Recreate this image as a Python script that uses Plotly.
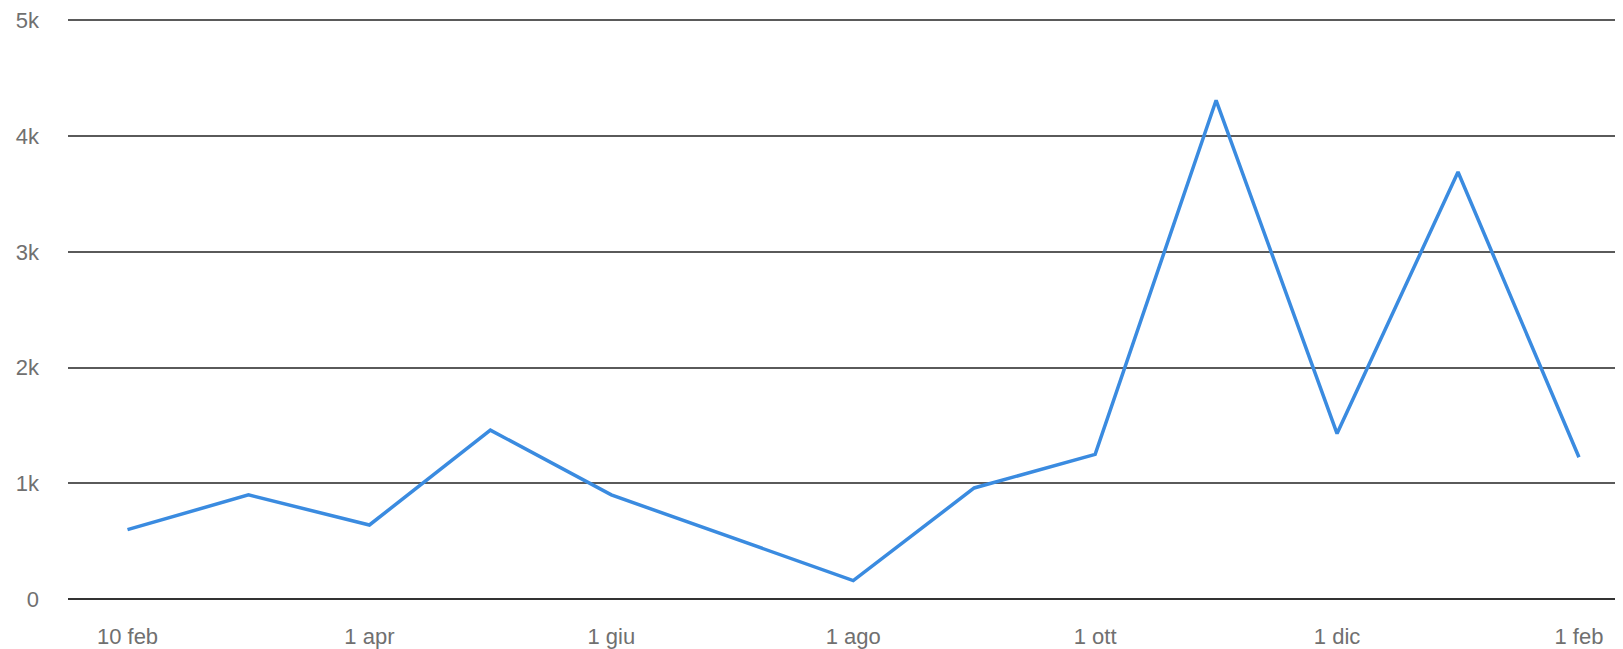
import plotly.graph_objects as go

# Data
dates = ["10 feb", "1 mar", "1 apr", "1 mag", "1 giu", "1 lug", "1 ago",
         "1 set", "1 ott", "1 nov", "1 dic", "1 gen", "1 feb"]
values = [600, 900, 640, 1460, 900, 530, 160, 960, 1250, 4310, 1430, 3690, 1225]

x_tick_labels = ["10 feb", "1 apr", "1 giu", "1 ago", "1 ott", "1 dic", "1 feb"]
y_tick_vals = [0, 1000, 2000, 3000, 4000, 5000]
y_tick_text = ["0", "1k", "2k", "3k", "4k", "5k"]

fig = go.Figure()
fig.add_trace(go.Scatter(
    x=dates, y=values, mode="lines",
    line=dict(color="#3a8be0", width=3.5),
    hoverinfo="x+y",
))

font_main = dict(family="Liberation Sans, Arial, sans-serif", size=22, color="#707070")

fig.update_layout(
    width=1615, height=641,
    margin=dict(l=60, r=0, t=2, b=40),
    paper_bgcolor="white", plot_bgcolor="white",
    showlegend=False,
    font=font_main,
    xaxis=dict(
        type="category",
        categoryorder="array", categoryarray=dates,
        tickmode="array", tickvals=x_tick_labels, ticktext=x_tick_labels,
        range=[-0.492, 12.364],
        showgrid=False, zeroline=False, showline=False,
        ticks="", ticklabelstandoff=15,
        ticklabeloverflow="allow",
        tickfont=font_main,
    ),
    yaxis=dict(
        range=[-60, 5073],
        tickmode="array", tickvals=y_tick_vals, ticktext=y_tick_text,
        showgrid=True, gridcolor="#5a5a5a", gridwidth=1.6,
        zeroline=True, zerolinecolor="#333333", zerolinewidth=2,
        showline=False, ticks="", ticklabelstandoff=28,
        ticklabeloverflow="allow",
        tickfont=font_main,
    ),
)

fig.write_html("out.html")
